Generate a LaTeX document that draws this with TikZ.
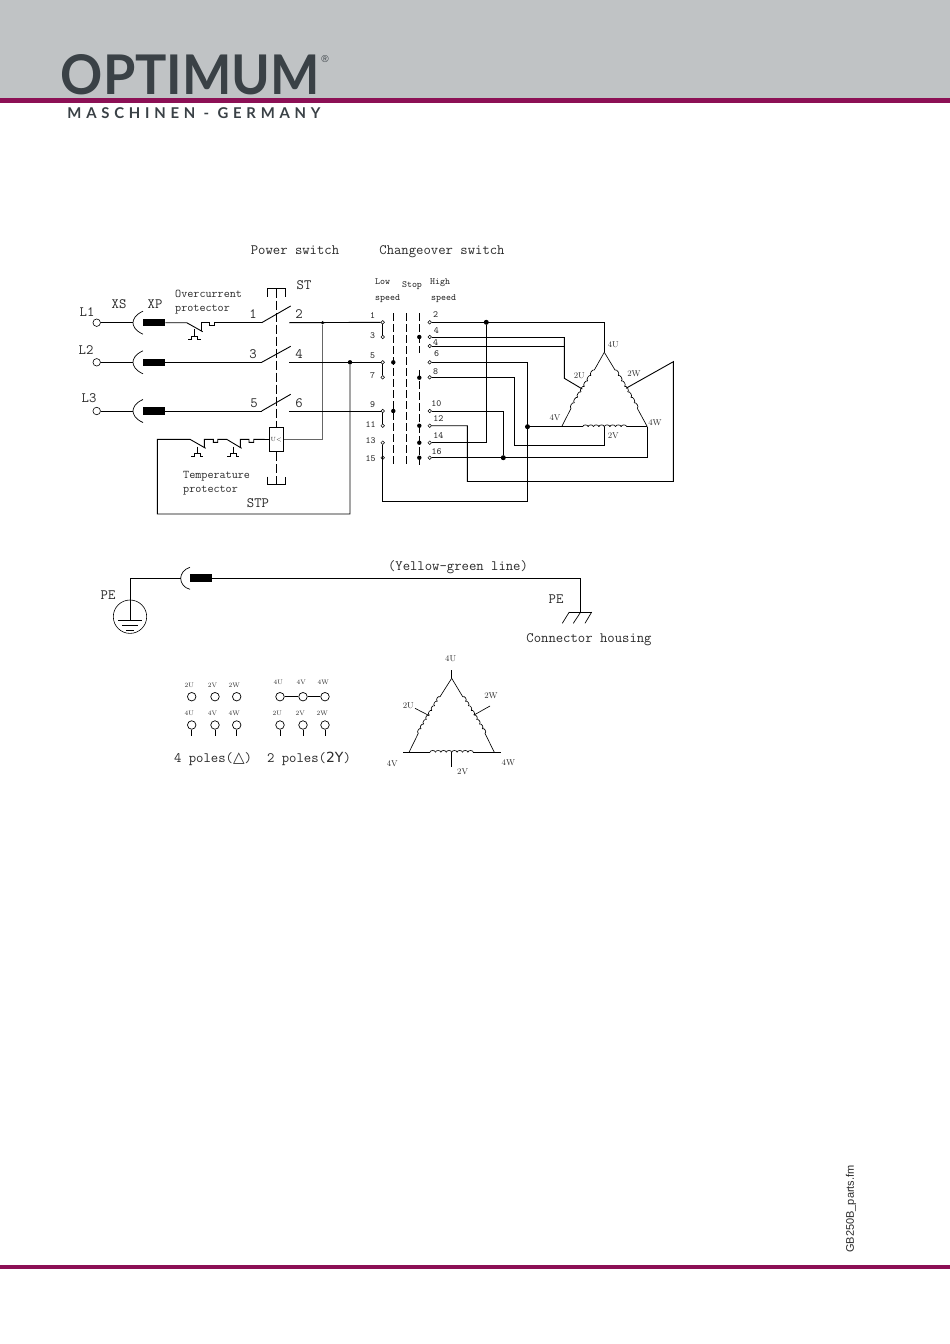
\documentclass[tikz,border=0pt]{standalone}
\usepackage{fontspec}
\setmonofont{Latin Modern Mono}
\newfontfamily\logofont{Lato}
\newfontfamily\logosub{Lato}[LetterSpace=32]
\newfontfamily\footfont{Liberation Sans}
\newfontfamily\symfont{DejaVu Sans}
\definecolor{headgray}{HTML}{C0C3C5}
\definecolor{maroon}{HTML}{8C1055}
\definecolor{logoink}{HTML}{3A4146}
\definecolor{lbl}{HTML}{2A2A2A}
\newcommand\coilseg[5]{%
  \pgfmathsetmacro\cdx{(#3-#1)/#5}%
  \pgfmathsetmacro\cdy{(#4-#2)/#5}%
  \pgfmathsetmacro\clen{sqrt(\cdx*\cdx+\cdy*\cdy)}%
  \pgfmathsetmacro\cnx{2.4*\cdy/\clen}%
  \pgfmathsetmacro\cny{-2.4*\cdx/\clen}%
  \foreach \ci in {1,...,#5}{%
    \pgfmathsetmacro\pax{#1+(\ci-1)*\cdx}%
    \pgfmathsetmacro\pay{#2+(\ci-1)*\cdy}%
    \pgfmathsetmacro\pbx{#1+\ci*\cdx}%
    \pgfmathsetmacro\pby{#2+\ci*\cdy}%
    \pgfmathsetmacro\qax{\pax+\cnx}%
    \pgfmathsetmacro\qay{\pay+\cny}%
    \pgfmathsetmacro\qbx{\pbx+\cnx}%
    \pgfmathsetmacro\qby{\pby+\cny}%
    \draw[thinw] (\pax,\pay) .. controls (\qax,\qay) and (\qbx,\qby) .. (\pbx,\pby);%
  }%
}
\tikzset{
  x=1pt,y=-1pt,
  wire/.style={line width=0.9pt,black},
  thinw/.style={line width=0.65pt,black},
  term/.style={circle,draw,line width=0.6pt,fill=white,inner sep=0pt,minimum size=7.5pt},
  sterm/.style={circle,draw,line width=0.5pt,fill=white,inner sep=0pt,minimum size=3.6pt},
  pterm/.style={circle,draw,line width=0.7pt,fill=white,inner sep=0pt,minimum size=8.5pt},
  jdot/.style={circle,fill=black,inner sep=0pt,minimum size=4.4pt},
  plug/.style={fill=black,draw=none,inner sep=0pt,minimum width=22pt,minimum height=7.5pt},
  tbig/.style={font=\ttfamily\fontsize{14.3}{15}\selectfont,text=lbl,inner sep=0pt},
  tmid/.style={font=\ttfamily\fontsize{11.8}{14}\selectfont,text=lbl,inner sep=0pt},
  tsmall/.style={font=\ttfamily\fontsize{9.5}{11}\selectfont,text=lbl,inner sep=0pt},
  ttiny/.style={font=\rmfamily\fontsize{8.5}{9}\selectfont,text=lbl,inner sep=0pt},
  tmini/.style={font=\rmfamily\fontsize{6.5}{7}\selectfont,text=lbl,inner sep=0pt},
  mechdash/.style={line width=0.7pt,dash pattern=on 9pt off 3pt},
  swdash/.style={line width=0.7pt,dash pattern=on 8pt off 3pt},
}
\begin{document}
\begin{tikzpicture}
\useasboundingbox (0,0) rectangle (950,1344);
\fill[white] (0,0) rectangle (950,1344);
% header
\fill[headgray] (0,0) rectangle (950,98);
\fill[maroon] (0,98) rectangle (950,103);
\fill[maroon] (0,1265) rectangle (950,1269);
\node[inner sep=0pt,text=logoink] (logo) at (190.5,75) {\resizebox{259pt}{40pt}{\logofont\bfseries OPTIMUM}};
\node[inner sep=0pt,text=logoink,font=\footfont\fontsize{10}{10}\selectfont] (reg) at (325,59.5) {®};
\node[inner sep=0pt,text=logoink] (sub) at (194,113) {\resizebox{253pt}{!}{\logosub\bfseries\fontsize{11}{12}\selectfont MASCHINEN - GERMANY}};
\node[inner sep=0pt,rotate=90,text=lbl,font=\footfont\fontsize{11}{12}\selectfont] (foot) at (851,1209) {GB250B\_parts.fm};

% headings
\node[tbig] (hp) at (295,250) {Power switch};
\node[tbig] (hc) at (442,251.7) {Changeover switch};
\node[tbig] (st) at (304,285) {ST};
\node[tbig] (xs) at (119,304) {XS};
\node[tbig] (xp) at (155,304) {XP};
\node[tbig] (l1) at (87,312) {L1};
\node[tbig] (l2) at (86,350) {L2};
\node[tbig] (l3) at (89,398) {L3};
\node[tmid,anchor=west] (oc1) at (175,294) {Overcurrent};
\node[tmid,anchor=west] (oc2) at (175,310) {protector};
\node[tmid,anchor=west] (tp1) at (183,476) {Temperature};
\node[tmid,anchor=west] (tp2) at (183,491) {protector};
\foreach \n/\t/\px/\py in {a1/1/253/314,a2/2/299/314,a3/3/253/354,a4/4/299/354,a5/5/254/403,a6/6/299/403}
  \node[tbig] (\n) at (\px,\py) {\t};
\node[tbig] (stp) at (258,503) {STP};

% terminals
\node[term] (tL1) at (96.7,322.7) {};
\node[term] (tL2) at (96.7,362.3) {};
\node[term] (tL3) at (96.7,411) {};
\foreach \n/\py in {1/322.7,2/362.3,3/411}{
  \draw[line width=0.7pt] (143,\py-11.5) .. controls (135,\py-8) and (133,\py-3) .. (133,\py) .. controls (133,\py+3) and (135,\py+8) .. (143,\py+11.5);
  \node[plug,anchor=west] (p\n) at (143,\py) {};
  \coordinate (s\n) at (133,\py);
  \coordinate (c\n) at (261.7,\py);
  \coordinate (d\n) at (289,\py);
}
\draw[wire] (tL1) -- (s1);
\draw[wire] (tL2) -- (s2);
\draw[wire] (tL3) -- (s3);
% switch contacts
\coordinate (b1) at (290.7,306);
\coordinate (b2) at (290.7,346.3);
\coordinate (b3) at (290.7,394.3);
\draw[wire] (c1) -- (b1);
\draw[wire] (c2) -- (b2);
\draw[wire] (c3) -- (b3);
% overcurrent protector
\coordinate (oa) at (186.7,322.7);
\draw[wire] (p1.east) -- (oa) -- (202.7,331.7);
\draw[wire] (201.7,331) -- (201.7,322.7) -- (209,322.7) -- (209,325.7) -- (214,325.7) -- (214,322.7) -- (c1);
\draw[line width=0.6pt] (194.3,329) -- (194.3,336.7) (188.3,339.5) -- (191.5,339.5) -- (191.5,336.7) -- (197.3,336.7) -- (197.3,339.5) -- (200.5,339.5);
\draw[wire] (p2.east) -- (c2);
\draw[wire] (p3.east) -- (c3);
% mechanical link
\draw[line width=0.7pt] (267.3,296.7) -- (267.3,288.7) -- (285.7,288.7) -- (285.7,296.7);
\draw[mechdash] (276.3,288.7) -- (276.3,427.3);
\node[draw,line width=0.7pt,fill=white,inner sep=0pt,minimum width=14pt,minimum height=24.4pt] (stpbox) at (276.3,439.5) {};
\node[font=\rmfamily\fontsize{6}{7}\selectfont,text=lbl,inner sep=0pt] (uless) at (276.3,439.3) {U<};
\draw[mechdash] (stpbox.south) -- (276.3,484.3);
\draw[line width=0.7pt] (267.3,476.7) -- (267.3,484.3) -- (285.7,484.3) -- (285.7,476.7);
% STP loop
\node[jdot,minimum size=3.5pt] (j1) at (322.7,322.7) {};
\node[jdot] (j2) at (350,362.3) {};
\coordinate (lpL) at (157.3,439.3);
\coordinate (lpB) at (157.3,514);
\coordinate (lpR) at (350,514);
\coordinate (lpJ) at (322.7,439.3);
\draw[wire] (j2) -- (lpR) -- (lpB) -- (lpL) -- (190,439.3) -- (205.7,448.3);
\draw[wire] (204.3,447.5) -- (204.3,439.3) -- (213.3,439.3) -- (213.3,442.3) -- (217.7,442.3) -- (217.7,439.3) -- (226.7,439.3) -- (241.7,448.3);
\draw[wire] (240.3,447.5) -- (240.3,439.3) -- (249,439.3) -- (249,442.3) -- (253.7,442.3) -- (253.7,439.3) -- (stpbox.west);
\foreach \cx in {197,233.3}{
\draw[line width=0.6pt] (\cx,446.5) -- (\cx,453.3) (\cx-6,456) -- (\cx-3,456) -- (\cx-3,453.3) -- (\cx+3,453.3) -- (\cx+3,456) -- (\cx+6,456);
}
\draw[wire,black!60] (stpbox.east |- lpJ) -- (lpJ) -- (j1);

% changeover switch
\foreach \n/\py in {1/322.3,3/337,5/362.3,7/377.3,9/411,11/425.7,13/442.7,15/457.7}
  \node[sterm] (L\n) at (382.7,\py) {};
\foreach \n/\py in {2/322.3,4/337,44/346,6/362.3,8/377.3,10/411,12/425.7,14/442.7,16/457.7}
  \node[sterm] (H\n) at (429.7,\py) {};
\draw[thinw] (L1) -- (L3);
\draw[thinw] (L5) -- (L7);
\draw[thinw] (L9) -- (L11);
\draw[swdash] (393.3,313.3) -- (393.3,465);
\draw[swdash] (406.3,313.3) -- (406.3,465);
\draw[swdash] (419.3,313.3) -- (419.3,353);
\draw[swdash] (419.3,370) -- (419.3,465);
\foreach \n/\px/\py in {k1/419.3/337,k2/393.3/362.3,k3/419.3/377.7,k4/393.3/411,k5/419.3/425.7,k6/419.3/442.7,k7/419.3/457.7}
  \node[jdot] (\n) at (\px,\py) {};
\node[tsmall,anchor=west] (lo1) at (375,281.5) {Low};
\node[tsmall,anchor=west] (lo2) at (375,299) {speed};
\node[tsmall] (sp) at (412,286) {Stop};
\node[tsmall,anchor=west] (hi1) at (430,282.5) {High};
\node[tsmall,anchor=west] (hi2) at (431,299) {speed};
\foreach \t/\px/\py in {1/372.7/315.7,3/372.7/336,5/372.7/355.3,7/372.7/375.7,9/372.7/404.3,11/370.7/425,13/370.7/440.3,15/370.7/459,2/435.7/314.7,4/436.3/330.7,4/435.7/342.7,6/436.7/353.3,8/435.7/372,10/436.3/404,12/438.3/418.7,14/438.3/436,16/436.7/451.3}
  \node[tsmall] at (\px,\py) {\t};

% motor delta
\coordinate (apex) at (604.3,352.3);
\coordinate (vL) at (561.7,426.7);
\coordinate (vR) at (647.3,426.7);
\coordinate (vM) at (604.3,426.7);
\coordinate (tap2U) at (582.3,389);
\coordinate (tap2W) at (626,388.3);
\draw[thinw] (apex) -- (594.3,370);
\coilseg{571}{408.3}{594.3}{370}{7}
\draw[thinw] (571,408.3) -- (vL);
\draw[thinw] (apex) -- (615,370);
\coilseg{615}{370}{637.3}{408.3}{7}
\draw[thinw] (637.3,408.3) -- (vR);
\draw[thinw] (vL) -- (582.7,426.7);
\coilseg{582.7}{426.7}{604.3}{426.7}{4}
\coilseg{604.3}{426.7}{626.7}{426.7}{4}
\draw[thinw] (626.7,426.7) -- (vR);
% field wiring
\node[jdot,minimum size=5pt] (dA) at (486.3,322.3) {};
\node[jdot,minimum size=5pt] (dB) at (527.5,426.7) {};
\node[jdot,minimum size=5pt] (dC) at (503.3,457.7) {};
\draw[wire] (d1) -- (L1);
\draw[wire] (d2) -- (j2) -- (L5);
\draw[wire] (d3) -- (L9);
\draw[wire] (H2) -- (604.3,322.3) -- (apex);
\draw[wire] (dA) |- (H14);
\draw[wire] (H4) -- (564.3,337);
\draw[wire] (H44) -- (564.3,346) ;
\draw[wire] (564.3,337) -- (564.3,378.3) -- (tap2U);
\draw[wire] (H6) -- (527.5,362.3) -- (527.5,501) -- (382.7,501) -- (L13);
\draw[wire] (H8) -- (514.3,377.3) -- (514.3,445.3) -- (604.3,445.3) -- (vM);
\draw[wire] (H10) -- (503.3,411) -- (dC);
\draw[wire] (H16) -- (647.3,457.7) -- (vR);
\draw[wire] (H12) -- (467.3,425.7) -- (467.3,481.5) -- (673.3,481.5) -- (673.3,361.7) -- (tap2W);
\draw[wire] (dB) -- (vL);
\foreach \t/\px/\py in {4U/613.3/344.3,2U/579.3/375.7,2W/634/374,4V/555/417.7,4W/655/422.3,2V/613.3/435.7}
  \node[ttiny] at (\px,\py) {\t};

% PE
\node[tbig] (pe1) at (108,595) {PE};
\node[circle,draw,line width=0.6pt,inner sep=0pt,minimum size=33.4pt] (pec) at (130,616.7) {};
\coordinate (pe0) at (130,578.3);
\coordinate (pe2) at (130,620);
\draw[wire] (180.7,578.3) -- (pe0) -- (pe2);
\draw[line width=0.7pt] (118.3,620) -- (141.7,620);
\draw[line width=0.6pt] (122.3,625.7) -- (138.3,625.7);
\draw[line width=0.6pt] (126,630.7) -- (134.3,630.7);
\draw[line width=0.7pt] (190,567.3) .. controls (184,569) and (180.7,574) .. (180.7,578.3) .. controls (180.7,583) and (184,588) .. (190,589.3);
\node[plug,anchor=west] (pp) at (190,578) {};
\coordinate (gr) at (580.7,578);
\coordinate (gt) at (580.7,612);
\draw[wire] (pp.east) -- (gr) -- (gt);
\node[tbig] (yg) at (458,566.7) {(Yellow-green line)};
\node[tbig] (pe3) at (556,599) {PE};
\node[tbig] (ch) at (589,640) {Connector housing};
\draw[line width=0.6pt] (569.3,612) -- (591.7,612);
\draw[line width=0.7pt] (569.3,612) -- (562.3,623.3);
\draw[line width=0.7pt] (580.7,612) -- (573.3,623.3);
\draw[line width=0.7pt] (591.7,612) -- (585,623.3);

% terminal boards
\foreach \n/\px/\t/\b in {a/191.7/2U/4U,b/215/2V/4V,c/236.7/2W/4W}{
  \node[pterm] (q\n) at (\px,696.7) {};
  \node[pterm] (r\n) at (\px,725) {};
  \draw[line width=0.7pt] (r\n) -- (\px,735.7);
  \node[tmini] at (\px-2.5,685) {\t};
  \node[tmini] at (\px-2.5,713.3) {\b};
}
\foreach \n/\px/\t/\b in {d/280/4U/2U,e/303/4V/2V,f/325/4W/2W}{
  \node[pterm] (q\n) at (\px,696.7) {};
  \node[pterm] (r\n) at (\px,725) {};
  \draw[line width=0.7pt] (r\n) -- (\px,735.7);
  \node[tmini] at (\px-1.7,682.3) {\t};
  \node[tmini] at (\px-2.7,713.3) {\b};
}
\draw[line width=0.8pt] (qd) -- (qe);
\draw[line width=0.8pt] (qe) -- (qf);
\node[tbig] (po4) at (213,759) {4 poles({\symfont\fontsize{15}{15}\selectfont △})};
\node[tbig] (po2) at (309,759) {2 poles({\symfont\fontsize{14}{15}\selectfont 2Y})};
% small delta
\coordinate (A) at (451.7,678.3);
\coordinate (At) at (451.7,670);
\coordinate (B) at (409,752.3);
\coordinate (C) at (494.3,752.3);
\coordinate (M) at (451.7,752.3);
\coordinate (Mb) at (451.7,766.7);
\coordinate (Ll) at (403.3,752.3);
\coordinate (Lr) at (500.7,752.3);
\draw[thinw] (At) -- (A);
\draw[thinw] (A) -- (440,696.7);
\coilseg{418.3}{733.3}{440}{696.7}{8}
\draw[thinw] (418.3,733.3) -- (B);
\draw[thinw] (A) -- (462.7,696.7);
\coilseg{462.7}{696.7}{485}{733.3}{8}
\draw[thinw] (485,733.3) -- (C);
\draw[thinw] (Ll) -- (430,752.3);
\coilseg{430}{752.3}{451.7}{752.3}{4}
\coilseg{451.7}{752.3}{473.3}{752.3}{4}
\draw[thinw] (473.3,752.3) -- (Lr);
\draw[thinw] (M) -- (Mb);
\draw[thinw] (429.3,715.7) -- (415,708.3);
\draw[thinw] (474,715) -- (490,706);
\foreach \t/\px/\py in {4U/450.7/659,2U/408.3/706,2W/491/695.7,4V/392.3/764,4W/508.3/762.3,2V/462.7/771.7}
  \node[ttiny] at (\px,\py) {\t};
\end{tikzpicture}
\end{document}
